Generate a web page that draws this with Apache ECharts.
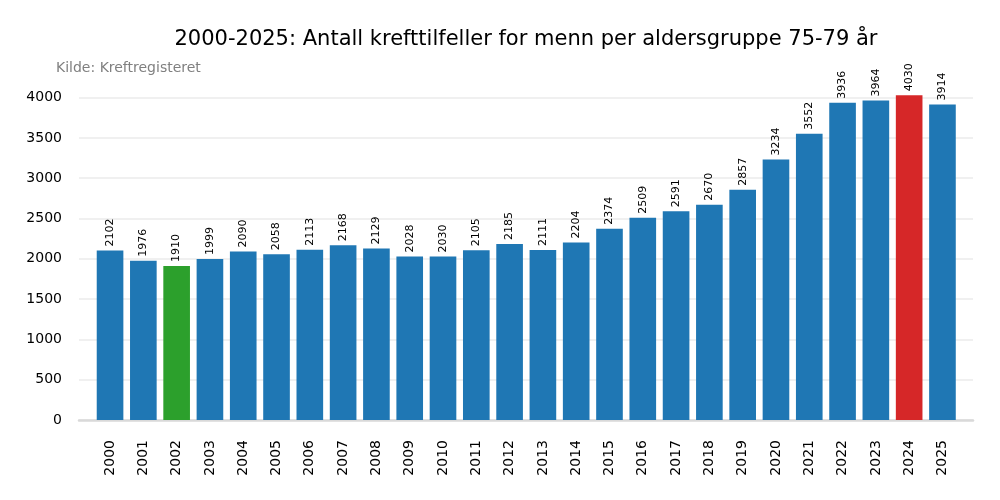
<!DOCTYPE html>
<html>
<head>
<meta charset="utf-8">
<script src="https://cdn.jsdelivr.net/npm/echarts@6/dist/echarts.min.js"></script>
<style>
html, body { margin: 0; padding: 0; background: #fff; }
#container { width: 1000px; height: 500px; }
</style>
</head>
<body>
<div id="container"></div>
<script>
// data
var years = ['2000', '2001', '2002', '2003', '2004', '2005', '2006', '2007', '2008', '2009',
	'2010', '2011', '2012', '2013', '2014', '2015', '2016', '2017', '2018', '2019',
	'2020', '2021', '2022', '2023', '2024', '2025'];
var cases = [2102, 1976, 1910, 1999, 2090, 2058, 2113, 2168, 2129, 2028,
	2030, 2105, 2185, 2111, 2204, 2374, 2509, 2591, 2670, 2857,
	3234, 3552, 3936, 3964, 4030, 3914];
var yTicks = [0, 500, 1000, 1500, 2000, 2500, 3000, 3500, 4000];

var BLUE = '#1f77b4', GREEN = '#2ca02c', RED = '#d62728';
var FONT = 'DejaVu Sans';

var lo = Math.min.apply(null, cases);
var hi = Math.max.apply(null, cases);
var yMax = hi * 1.05;

var barData = cases.map(function(v) {
	var c = BLUE;
	if (v === lo) c = GREEN;
	if (v === hi) c = RED;
	return { value: v, itemStyle: { color: c } };
});

// grid lines: one per tick, the extra one at max hidden
var lineColors = yTicks.map(function() { return '#ebebeb'; });
lineColors.push('rgba(0,0,0,0)');

var myChart = echarts.init(document.getElementById('container'), null, { renderer: 'canvas' });
var option = {
	animation: false,
	backgroundColor: '#fff',
	title: [{
		text: '2000-2025: Antall krefttilfeller for menn per aldersgruppe 75-79 år',
		left: 526, top: 29, textAlign: 'center', padding: 0,
		textStyle: { fontFamily: FONT, fontSize: 21, fontWeight: 'normal', color: '#000' }
	}, {
		text: 'Kilde: Kreftregisteret',
		left: 56, top: 61, padding: 0,
		textStyle: { fontFamily: FONT, fontSize: 14, fontWeight: 'normal', color: '#808080' }
	}],
	grid: [
		{ left: 79, right: 27, top: 79, bottom: 80 },
		{ left: 93.4, right: 40.9, top: 79, bottom: 80 }
	],
	xAxis: [{
		gridIndex: 0, type: 'value', min: 0, max: 1,
		axisLine: { show: true, lineStyle: { color: '#d9d9d9', width: 2.5 } },
		axisTick: { show: false }, axisLabel: { show: false }, splitLine: { show: false }
	}, {
		gridIndex: 1, type: 'category', data: years,
		axisLine: { show: false }, axisTick: { show: false },
		axisLabel: { rotate: 90, margin: 20, fontFamily: FONT, fontSize: 14, color: '#000' }
	}],
	yAxis: [{
		gridIndex: 0, type: 'value', min: 0, max: yMax, interval: 500,
		axisLine: { show: false }, axisTick: { show: false },
		axisLabel: {
			showMaxLabel: false, margin: 17, fontFamily: FONT, fontSize: 14, color: '#000',
			formatter: function(v) { return String(v); }
		},
		splitLine: { show: true, lineStyle: { color: lineColors, width: 1.5 } }
	}, {
		gridIndex: 1, type: 'value', min: 0, max: yMax, show: false
	}],
	series: [{
		type: 'bar', xAxisIndex: 1, yAxisIndex: 1,
		barWidth: '80%',
		data: barData,
		label: {
			show: true, position: 'top', distance: 4, rotate: 90,
			align: 'left', verticalAlign: 'middle',
			fontFamily: FONT, fontSize: 11, color: '#000'
		}
	}]
};
myChart.setOption(option);
</script>
</body>
</html>
